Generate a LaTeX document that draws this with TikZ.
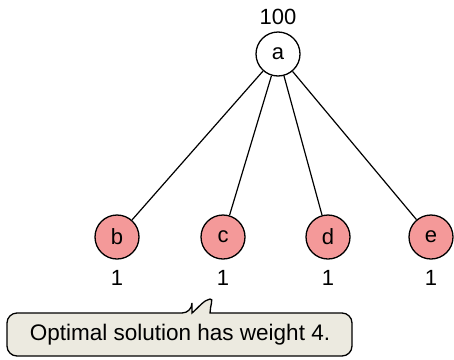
\documentclass[tikz,border=0pt]{standalone}
\usepackage{fontspec}
\setmainfont{Liberation Sans}
\definecolor{nodefill}{RGB}{244,153,153}
\definecolor{calloutfill}{RGB}{236,234,224}
\tikzset{
  vert/.style={circle, draw=black, line width=1.3pt, minimum size=44pt, inner sep=0pt, font=\fontsize{22}{26}\selectfont},
  redvert/.style={vert, fill=nodefill},
  whitevert/.style={vert, fill=white},
  wlabel/.style={font=\fontsize{22}{26}\selectfont, inner sep=0pt},
  edge/.style={line width=1.2pt},
  callout/.style={draw=black, line width=1.3pt, fill=calloutfill}
}
\begin{document}
\begin{tikzpicture}[x=1pt,y=-1pt]
\useasboundingbox (0,0) rectangle (454,359);
\node[whitevert] (a) at (278,54) {a};
\node[redvert] (b) at (117,237) {b};
\node[redvert] (c) at (223,237) {c};
\node[redvert] (d) at (328,237) {d};
\node[redvert] (e) at (431,237) {e};
\draw[edge] (a) -- (b);
\draw[edge] (a) -- (c);
\draw[edge] (a) -- (d);
\draw[edge] (a) -- (e);
\node[wlabel] (la) at (278,17) {100};
\node[wlabel] (lb) at (117,278) {1};
\node[wlabel] (lc) at (223,278) {1};
\node[wlabel] (ld) at (328,278) {1};
\node[wlabel] (le) at (431,278) {1};
\draw[callout] (192,313) .. controls (199,307) and (204,300) .. (210,299)
  .. controls (214,298) and (210,306) .. (210,313)
  [rounded corners=10pt] -- (352,313) -- (352,356) -- (7,356) -- (7,313) -- (192,313) [sharp corners] -- cycle;
\node[wlabel, font=\fontsize{22.5}{26}\selectfont] (msg) at (180,335) {Optimal solution has weight 4.};
\end{tikzpicture}
\end{document}
